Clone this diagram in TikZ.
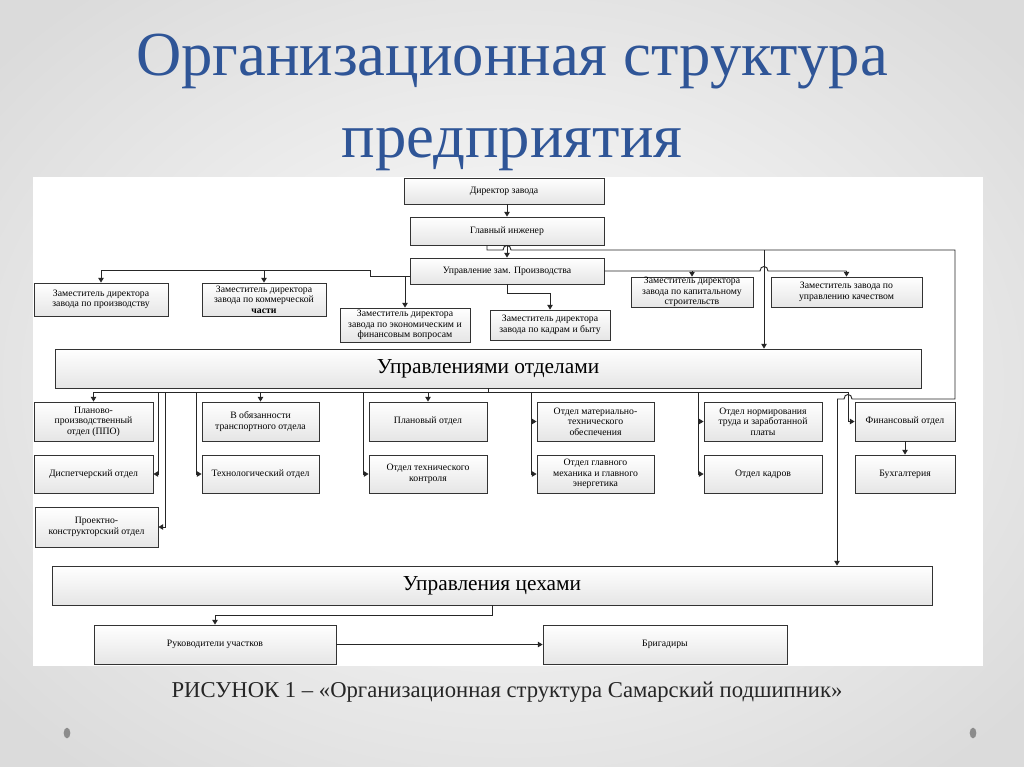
\documentclass[tikz,border=0pt]{standalone}
\usepackage{fontspec}
\setmainfont{Liberation Serif}
\usetikzlibrary{arrows.meta,shadows}
\definecolor{titleblue}{RGB}{47,85,151}
\tikzset{
  box/.style={draw=black!80, line width=0.6pt, top color=white, bottom color=black!10,
    inner sep=0pt, align=center, font=\fontsize{7.3}{7.9}\selectfont,
    drop shadow={shadow xshift=0.8pt, shadow yshift=-0.8pt, fill=black!40, opacity=0.6}},
  bigbox/.style={box, font=\fontsize{16}{18}\selectfont},
  conn/.style={line width=0.7pt, draw=black!85},
  arr/.style={conn, -{Triangle[length=3.5pt,width=4pt]}},
}
% #1 style, #2 name, #3 x1, #4 y1, #5 x2, #6 y2, #7 text
\newcommand\obox[7]{\node[#1, minimum width={(#5-#3)*0.75pt}, minimum height={(#6-#4)*0.75pt}]
  (#2) at ({(#3+#5)/2},{(#4+#6)/2}) {#7};}
\begin{document}
\begin{tikzpicture}[x=0.75pt,y=-0.75pt]
\useasboundingbox (0,0) rectangle (1024,767);
\shade[inner color=white, outer color=black!14] (-150,-120) rectangle (1174,887);
\fill[white] (33,177) rectangle (983,666);

% title and caption
\node[anchor=base, text=titleblue, font=\fontsize{47}{50}\selectfont] (t1) at (512,75) {Организационная структура};
\node[anchor=base, text=titleblue, font=\fontsize{47}{50}\selectfont] (t2) at (512,157) {предприятия};
\node[anchor=base, text=black!85, font=\fontsize{17}{20}\selectfont] (cap) at (507,697) {РИСУНОК 1 – «Организационная структура Самарский подшипник»};
\fill[black!45] (67,733) ellipse [x radius=2.5pt, y radius=4pt];
\fill[black!45] (973,733) ellipse [x radius=2.5pt, y radius=4pt];

% top boxes
\obox{box}{dir}{404}{178}{604}{204}{Директор завода}
\obox{box}{eng}{410}{217}{604}{245}{Главный инженер}
\obox{box}{upr}{410}{258}{604}{284}{Управление зам. Производства}
\obox{box}{d1}{34}{283}{168}{316}{Заместитель директора\\завода по производству}
\obox{box}{d2}{202}{283}{326}{316}{Заместитель директора\\завода по коммерческой\\\textbf{части}}
\obox{box}{d3}{340}{308}{470}{342}{Заместитель директора\\завода по экономическим и\\финансовым вопросам}
\obox{box}{d5}{490}{310}{610}{340}{Заместитель директора\\завода по кадрам и быту}
\obox{box}{d6}{631}{277}{753}{307}{Заместитель директора\\завода по капитальному\\строительств}
\obox{box}{d7}{771}{277}{922}{307}{Заместитель завода по\\управлению качеством}

\obox{bigbox}{otd}{55}{349}{921}{388}{Управлениями отделами}

% departments
\obox{box}{ppo}{34}{402}{153}{441}{Планово-\\производственный\\отдел (ППО)}
\obox{box}{transp}{202}{402}{319}{441}{В обязанности\\транспортного отдела}
\obox{box}{plan}{369}{402}{487}{441}{Плановый отдел}
\obox{box}{mto}{537}{402}{654}{441}{Отдел материально-\\технического\\обеспечения}
\obox{box}{norm}{704}{402}{822}{441}{Отдел нормирования\\труда и заработанной\\платы}
\obox{box}{fin}{855}{402}{955}{441}{Финансовый отдел}
\obox{box}{disp}{34}{455}{153}{493}{Диспетчерский отдел}
\obox{box}{tech}{202}{455}{319}{493}{Технологический отдел}
\obox{box}{otk}{369}{455}{487}{493}{Отдел технического\\контроля}
\obox{box}{ogm}{537}{455}{654}{493}{Отдел главного\\механика и главного\\энергетика}
\obox{box}{kadr}{704}{455}{822}{493}{Отдел кадров}
\obox{box}{buh}{855}{455}{955}{493}{Бухгалтерия}
\obox{box}{proekt}{35}{507}{158}{547}{Проектно-\\конструкторский отдел}

\obox{bigbox}{cex}{52}{566}{932}{605}{Управления цехами}
\obox{box}{ruk}{94}{625}{336}{664}{Руководители участков}
\obox{box}{brig}{543}{625}{787}{664}{Бригадиры}

% connectors: top
\draw[arr] (eng.north |- dir.south) -- (eng.north);
\draw[arr] (eng.south) -- (upr.north);
\draw[conn] (eng.south -| 487,0) -- (487,250) -- (503,250) .. controls (503,244) and (511,244) .. (511,250)
  -- (955,250) -- (955,399) -- (852,399) .. controls (852,393) and (844,393) .. (844,399) -- (837,399);
\draw[arr] (837,399) -- (cex.north -| 837,0);
\draw[arr] (764,250) -- (otd.north -| 764,0);

% deputies
\draw[conn] (upr.west |- 0,276) -- (370,276) -- (370,270) -- (d1.north |- 0,270);
\draw[arr] (d1.north |- 0,270) -- (d1.north);
\draw[arr] (d2.north |- 0,270) -- (d2.north);
\draw[arr] (d3.north |- 0,276) -- (d3.north);
\draw[arr] (upr.south) -- ++(0,9) -| (d5.north);
\draw[conn] (upr.east) -- (760,271) .. controls (760,265) and (768,265) .. (768,271) -- (d7.north |- upr.east);
\draw[arr] (d6.north |- upr.east) -- (d6.north);
\draw[arr] (d7.north |- upr.east) -- (d7.north);

% departments bus
\draw[conn] (otd.south) -- (otd.south |- 0,392);
\draw[arr] (ppo.north |- 0,392) -- (848,392) |- (fin.west);
\draw[arr] (ppo.north |- 0,392) -- (ppo.north);
\draw[arr] (158,392) |- (disp.east);
\draw[arr] (165,392) |- (proekt.east);
\draw[arr] (196,392) |- (tech.west);
\draw[arr] (transp.north |- 0,392) -- (transp.north);
\draw[arr] (363,392) |- (otk.west);
\draw[arr] (plan.north |- 0,392) -- (plan.north);
\draw[arr] (531,392) |- (ogm.west);
\draw[arr] (mto.west -| 531,0) -- (mto.west);
\draw[arr] (698,392) |- (kadr.west);
\draw[arr] (norm.west -| 698,0) -- (norm.west);
\draw[arr] (fin.south) -- (buh.north);

% bottom
\draw[arr] (cex.south -| 492,0) -- ++(0,10) -| (ruk.north);
\draw[arr] (ruk.east) -- (brig.west);
\end{tikzpicture}
\end{document}
